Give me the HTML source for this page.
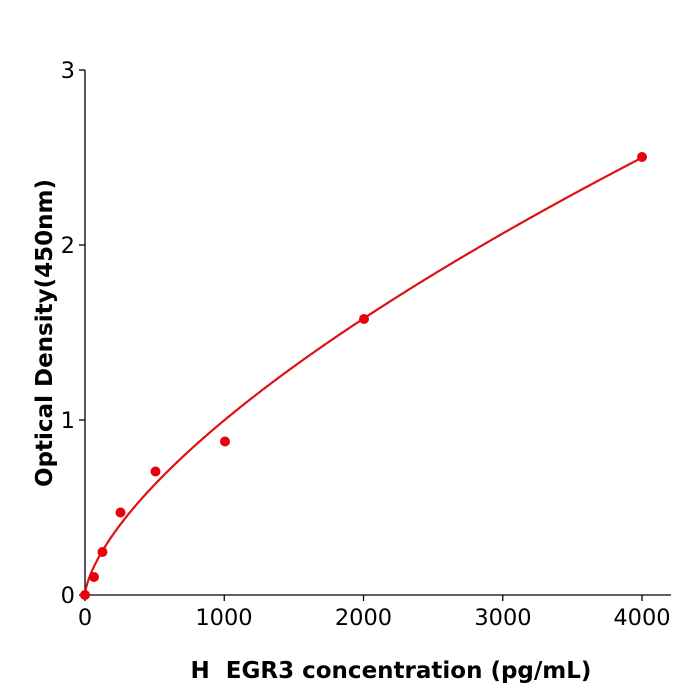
<!DOCTYPE html>
<html><head><meta charset="utf-8"><style>
html,body{margin:0;padding:0;background:#fff;}
svg{display:block;font-family:"DejaVu Sans","Liberation Sans",sans-serif;}
</style></head><body>
<svg id="s" width="700" height="700" xmlns="http://www.w3.org/2000/svg">
<rect width="700" height="700" fill="#fff"/>
<g stroke="#000" stroke-width="1.3" fill="none">
<line x1="85" y1="70" x2="85" y2="596"/>
<line x1="84" y1="595" x2="671" y2="595"/>
<line x1="79" y1="595" x2="85" y2="595"/>
<line x1="79" y1="420" x2="85" y2="420"/>
<line x1="79" y1="245" x2="85" y2="245"/>
<line x1="79" y1="70" x2="85" y2="70"/>
<line x1="85" y1="595" x2="85" y2="601"/>
<line x1="224.25" y1="595" x2="224.25" y2="601"/>
<line x1="363.5" y1="595" x2="363.5" y2="601"/>
<line x1="502.75" y1="595" x2="502.75" y2="601"/>
<line x1="642" y1="595" x2="642" y2="601"/>
</g>
<g font-size="22.5" fill="#000" text-anchor="end">
<text x="75" y="603">0</text><text x="75" y="428">1</text><text x="75" y="253">2</text><text x="75" y="78">3</text>
</g>
<g font-size="22.5" fill="#000" text-anchor="middle">
<text x="85" y="625">0</text><text x="224" y="625">1000</text><text x="363.5" y="625">2000</text><text x="503" y="625">3000</text><text x="642" y="625">4000</text>
</g>
<text x="391" y="678" font-size="23" font-weight="bold" text-anchor="middle" style="white-space:pre">H  EGR3 concentration (pg/mL)</text>
<text transform="translate(52,333) rotate(-90)" font-size="23" font-weight="bold" text-anchor="middle">Optical Density(450nm)</text>
<path id="c" fill="none" stroke="#dd1111" stroke-width="2.2"/>
<g fill="#e8000b">
<circle cx="85" cy="595" r="5"/><circle cx="94" cy="577" r="5"/><circle cx="102.5" cy="552" r="5"/>
<circle cx="120.5" cy="512.5" r="5"/><circle cx="155.5" cy="471.5" r="5"/><circle cx="225" cy="441.5" r="5"/>
<circle cx="364" cy="319" r="5"/><circle cx="642" cy="157" r="5"/>
</g>
<script>
var d="";for(var i=0;i<=400;i++){var x=4000*Math.pow(i/400,1.5);var y=0.01031*Math.pow(x,0.662);
d+=(i?"L":"M")+(85+x*0.13925).toFixed(2)+","+(595-y*175).toFixed(2);}
document.getElementById("c").setAttribute("d",d);
</script>
</svg>
</body></html>
